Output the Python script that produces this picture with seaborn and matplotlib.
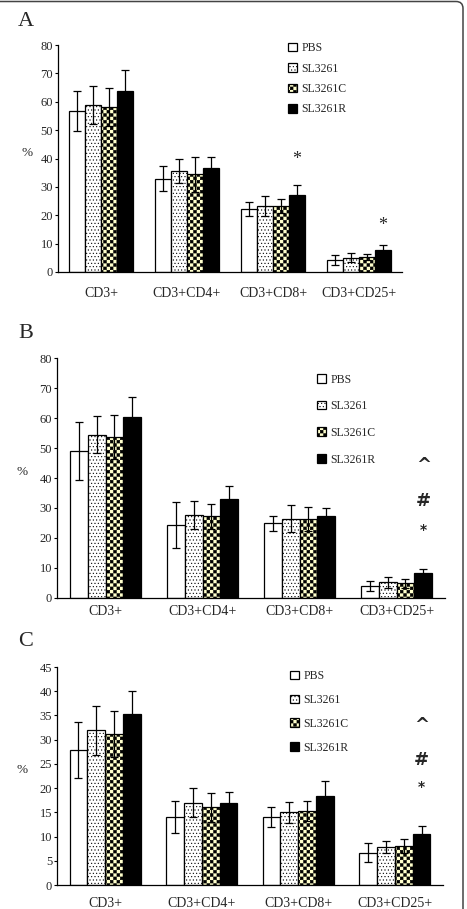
import matplotlib
matplotlib.use("Agg")
import numpy as np
import pandas as pd
import matplotlib.pyplot as plt
import seaborn as sns
from matplotlib import hatch as mhatch
from matplotlib.path import Path
from matplotlib.patches import FancyBboxPatch

cells = ["CD3+", "CD3+CD4+", "CD3+CD8+", "CD3+CD25+"]
groups = ["PBS", "SL3261", "SL3261C", "SL3261R"]

# valori (righe = gruppi, colonne = cellule)
a_mean = [[56.7, 32.9, 22.1, 4.2],
          [58.8, 35.6, 23.2, 5.1],
          [58.2, 34.5, 23.3, 5.4],
          [63.9, 36.7, 27.1, 7.6]]
a_err = [[7.0, 4.5, 2.4, 1.7],
         [6.7, 4.4, 3.5, 1.5],
         [6.6, 6.2, 2.5, 1.1],
         [7.2, 3.7, 3.7, 1.9]]

b_mean = [[49.0, 24.3, 25.0, 4.1],
          [54.4, 27.6, 26.5, 5.2],
          [53.8, 27.3, 26.5, 4.9],
          [60.5, 32.9, 27.5, 8.4]]
b_err = [[9.7, 7.6, 2.5, 1.6],
         [6.2, 4.6, 4.4, 1.7],
         [7.3, 4.2, 4.0, 1.5],
         [6.6, 4.5, 2.4, 1.3]]

c_mean = [[27.9, 14.1, 14.1, 6.7],
          [31.9, 17.0, 15.0, 7.8],
          [31.2, 16.0, 15.3, 8.1],
          [35.3, 17.0, 18.3, 10.6]]
c_err = [[5.8, 3.3, 2.1, 1.9],
         [5.1, 3.0, 2.1, 1.2],
         [4.7, 3.0, 2.1, 1.4],
         [4.7, 2.2, 3.1, 1.6]]

# segni di significativita: (cellula, simbolo, altezza)
a_marks = [("CD3+CD8+", "*", 39.6), ("CD3+CD25+", "*", 16.5)]
b_marks = [("CD3+CD25+", "^", 44.3), ("CD3+CD25+", "#", 32.3), ("CD3+CD25+", "*", 22.8)]
c_marks = [("CD3+CD25+", "^", 33.0), ("CD3+CD25+", "#", 25.8), ("CD3+CD25+", "*", 20.3)]

colors = ["white", "white", "#FFFFCC", "black"]
hatches = [None, ".....", "ccccc", None]

HATCH_LW = 0.4


# hatch a scacchiera (non esiste in matplotlib)
class CheckerHatch(mhatch.HatchPatternBase):
    def __init__(self, hatch, density):
        self.n = hatch.count("c") * density
        self.n -= self.n % 2
        self.num_vertices = 5 * ((self.n * self.n + 1) // 2) if self.n else 0

    def set_vertices_and_codes(self, vertices, codes):
        n = self.n
        s = 1.0 / n
        ins = 0.5 * HATCH_LW / 72
        k = 0
        for i in range(n):
            for j in range(n):
                if (i + j) % 2 == 0:
                    x0, y0 = i * s + ins, j * s + ins
                    x1, y1 = (i + 1) * s - ins, (j + 1) * s - ins
                    vertices[k:k + 5] = [(x0, y0), (x1, y0), (x1, y1), (x0, y1), (x0, y0)]
                    codes[k:k + 5] = [Path.MOVETO, Path.LINETO, Path.LINETO, Path.LINETO, Path.CLOSEPOLY]
                    k += 5


mhatch._hatch_types.append(CheckerHatch)

sns.set_style("white")
plt.rcParams["font.family"] = ["Liberation Serif", "DejaVu Serif"]
plt.rcParams["hatch.linewidth"] = HATCH_LW


def to_long(mean):
    rows = []
    for g, vals in zip(groups, mean):
        for c, v in zip(cells, vals):
            rows.append({"cell": c, "group": g, "value": v})
    return pd.DataFrame(rows)


def draw_panel(ax, mean, err, ymax, ystep, marks, leg_anchor, leg_spacing, xpad, mark_style):
    df = to_long(mean)
    sns.barplot(data=df, x="cell", y="value", hue="group", order=cells, hue_order=groups,
                palette=colors, saturation=1, edgecolor="black", linewidth=0.9,
                width=0.74, errorbar=None, legend=False, ax=ax)
    bars = list(ax.containers)
    for cont, h in zip(bars, hatches):
        for p in cont.patches:
            if h:
                p.set_hatch(h)
    # barre di errore
    for cont, e in zip(bars, err):
        xs = [p.get_x() + p.get_width() / 2 for p in cont.patches]
        ys = [p.get_height() for p in cont.patches]
        ax.errorbar(xs, ys, yerr=e, fmt="none", ecolor="black", elinewidth=0.9,
                    capsize=2.6, capthick=0.9, zorder=5)
    # simboli
    last = bars[-1].patches
    for cell, sym, y in marks:
        p = last[cells.index(cell)]
        x = p.get_x() + p.get_width() / 2
        if mark_style == "serif":
            ax.text(x, y, sym, ha="center", va="center", fontsize=13)
        else:
            fs = 10 if sym == "*" else 13
            ax.text(x, y, sym, ha="center", va="center", fontsize=fs,
                    fontweight="bold", family="DejaVu Sans")
    ax.set_ylim(0, ymax)
    ax.set_xlim(-0.5, 3.5)
    ax.set_yticks(np.arange(0, ymax + 0.1, ystep))
    ax.set_xlabel("")
    ax.set_ylabel("%", rotation=0, fontsize=9.5)
    ax.yaxis.set_label_coords(-0.09, 0.5)
    ax.set_xticks([0.5, 1.5, 2.5, 3.5], minor=True)
    ax.tick_params(axis="x", which="major", length=0, pad=xpad, labelsize=10)
    ax.tick_params(axis="x", which="minor", length=3.5, width=0.8, direction="out", color="black")
    ax.tick_params(axis="y", length=2, width=0.8, pad=1.5, labelsize=9, direction="out", color="black", left=True)
    for s in ["top", "right"]:
        ax.spines[s].set_visible(False)
    for s in ["left", "bottom"]:
        ax.spines[s].set_color("black")
        ax.spines[s].set_linewidth(0.9)
    ax.legend(bars, groups, loc="upper left", bbox_to_anchor=leg_anchor,
              frameon=False, fontsize=8.5, handlelength=0.75, handleheight=0.75,
              handletextpad=0.4, labelspacing=leg_spacing, borderpad=0, borderaxespad=0)


fig = plt.figure(figsize=(4.67, 9.09), dpi=100)

ax_a = fig.add_axes([58 / 467, 1 - 272 / 909, 344 / 467, 227 / 909])
ax_b = fig.add_axes([57 / 467, 1 - 598 / 909, 388 / 467, 240 / 909])
ax_c = fig.add_axes([57 / 467, 1 - 885 / 909, 386 / 467, 218 / 909])

draw_panel(ax_a, a_mean, a_err, 80, 10, a_marks, (0.668, 1.012), 0.71, 11, "serif")
draw_panel(ax_b, b_mean, b_err, 80, 10, b_marks, (0.670, 0.935), 1.24, 5, "sans")
draw_panel(ax_c, c_mean, c_err, 45, 5, c_marks, (0.604, 0.985), 1.0, 8.5, "sans")

for lab, y in [("A", 22), ("B", 333), ("C", 641)]:
    fig.text(26 / 467, 1 - y / 909, lab, fontsize=16, ha="center", va="center")

# cornice
frame = FancyBboxPatch((-0.5, -0.5), 0.5 + 4.63, 0.5 + 9.075,
                       boxstyle="round,pad=0,rounding_size=0.07",
                       transform=fig.dpi_scale_trans, fill=False,
                       edgecolor="#444444", linewidth=1.1)
fig.patches.append(frame)

fig.savefig("out.png", dpi=100)
